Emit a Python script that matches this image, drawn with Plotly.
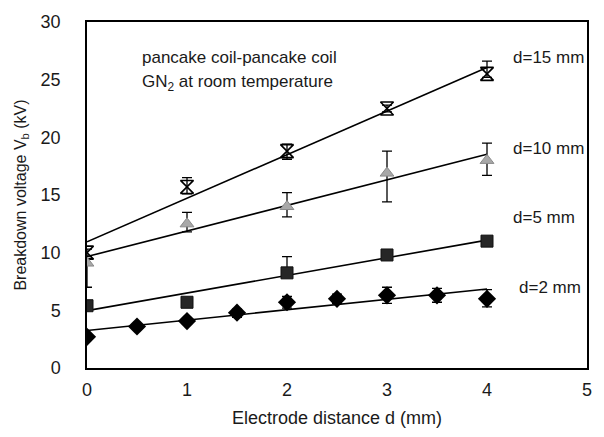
import numpy as np
import plotly.graph_objects as go

# ---- data ----
x_main = [0, 1, 2, 3, 4]
x_d2 = [0, 0.5, 1, 1.5, 2, 2.5, 3, 3.5, 4]

v_d15 = [10.0, 15.7, 18.8, 22.5, 25.5]
e15_plus = [0.3, 0.8, 0.6, 0.3, 1.1]
e15_minus = [0.3, 0.6, 0.7, 0.3, 0.3]

v_d10 = [9.1, 12.5, 14.0, 16.9, 18.0]
e10_plus = [0.4, 1.0, 1.2, 1.9, 1.5]
e10_minus = [2.1, 0.7, 0.9, 2.5, 1.3]

v_d5 = [5.4, 5.7, 8.25, 9.8, 11.0]
e5_plus = [0.2, 0.2, 1.4, 0.2, 0.2]
e5_minus = [0.2, 0.2, 0.3, 0.2, 0.2]

v_d2 = [2.7, 3.6, 4.07, 4.8, 5.7, 6.0, 6.3, 6.3, 6.0]
e2_plus = [0.2, 0.2, 0.2, 0.3, 0.5, 0.4, 0.7, 0.6, 0.8]
e2_minus = [0.2, 0.2, 0.2, 0.4, 0.5, 0.4, 0.7, 0.6, 0.7]

x_ticks = [0, 1, 2, 3, 4, 5]
y_ticks = [0, 5, 10, 15, 20, 25, 30]

labels = ["d=15 mm", "d=10 mm", "d=5 mm", "d=2 mm"]
label_x = [4.24, 4.24, 4.24, 4.30]
label_y = [26.9, 19.0, 13.05, 6.95]

FONT = "Liberation Sans, Arial, sans-serif"
TXT = "#1a1a1a"

fig = go.Figure()

series = [
    (x_main, v_d15, e15_plus, e15_minus, dict(symbol="hourglass-open", size=13, color="black",
                                             line=dict(color="black", width=1.6))),
    (x_main, v_d10, e10_plus, e10_minus, dict(symbol="triangle-up", size=12, color="#a8a8a8",
                                             line=dict(color="#8a8a8a", width=1))),
    (x_main, v_d5, e5_plus, e5_minus, dict(symbol="square", size=12, color="#262626",
                                          line=dict(color="#111", width=1))),
    (x_d2, v_d2, e2_plus, e2_minus, dict(symbol="diamond", size=14, color="black",
                                        line=dict(color="black", width=0))),
]

for xs, ys, ep, em, mk in series:
    # linear fit line
    k, b = np.polyfit(xs, ys, 1)
    xf = np.array([xs[0], xs[-1]])
    fig.add_trace(go.Scatter(x=xf, y=k * xf + b, mode="lines",
                             line=dict(color="black", width=1.6),
                             showlegend=False, hoverinfo="skip"))
    fig.add_trace(go.Scatter(x=xs, y=ys, mode="markers", marker=mk,
                             error_y=dict(type="data", symmetric=False, array=ep,
                                          arrayminus=em, color="black",
                                          thickness=1.3, width=5),
                             showlegend=False))

annotations = [
    dict(x=0.53, y=26.9, text="pancake coil-pancake coil", showarrow=False,
         xanchor="left", yanchor="middle", font=dict(size=17, family=FONT, color=TXT)),
    dict(x=0.53, y=24.7, text="GN<sub>2</sub> at room temperature", showarrow=False,
         xanchor="left", yanchor="middle", font=dict(size=17, family=FONT, color=TXT)),
]
for t, lx, ly in zip(labels, label_x, label_y):
    annotations.append(dict(x=lx, y=ly, text=t, showarrow=False, xanchor="left",
                            yanchor="middle", font=dict(size=17, family=FONT, color=TXT)))

fig.update_layout(
    width=604, height=437,
    margin=dict(l=87, r=16, t=15, b=68),
    paper_bgcolor="white", plot_bgcolor="white",
    font=dict(family=FONT, size=17, color=TXT),
    annotations=annotations,
    xaxis=dict(range=[0, 5], tickvals=x_ticks, showgrid=False, zeroline=False,
               showline=True, mirror=True, linecolor="black", linewidth=1.5,
               ticks="", tickfont=dict(size=18), ticklabelstandoff=5,
               title=dict(text="Electrode distance d (mm)", font=dict(size=18), standoff=12)),
    yaxis=dict(range=[0, 30], tickvals=y_ticks, showgrid=False, zeroline=False,
               showline=True, mirror=True, linecolor="black", linewidth=1.5,
               ticks="", tickfont=dict(size=18), ticklabelstandoff=21,
               title=dict(text="Breakdown voltage V<sub>b</sub> (kV)", font=dict(size=16), standoff=10)),
)

fig.write_html("out.html")
